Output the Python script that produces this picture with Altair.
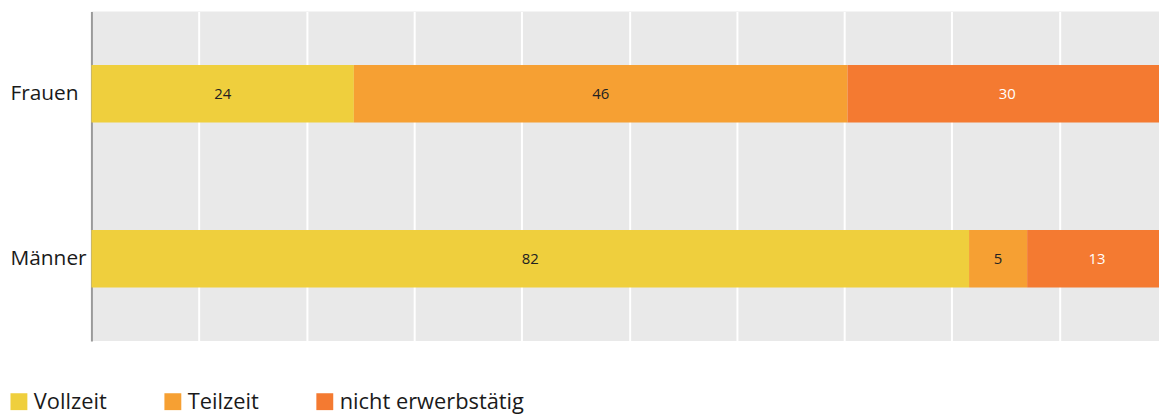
import altair as alt
import pandas as pd

groups = ["Frauen", "Männer"]
categories = ["Vollzeit", "Teilzeit", "nicht erwerbstätig"]
frauen_values = [24.4, 45.9, 29.7]
maenner_values = [81.6, 5.4, 13.0]
frauen_labels = ["24", "46", "30"]
maenner_labels = ["82", "5", "13"]
colors = ["#efcf3d", "#f6a033", "#f47a31"]

rows = []
for g, vals, labs in [("Frauen", frauen_values, frauen_labels), ("Männer", maenner_values, maenner_labels)]:
    for i, (c, v, l) in enumerate(zip(categories, vals, labs)):
        rows.append({"group": g, "category": c, "value": v, "label": l, "order": i})
df = pd.DataFrame(rows)

FONT = "Open Sans"

base = alt.Chart(df).transform_stack(
    stack="value", groupby=["group"], as_=["x0", "x1"], sort=[alt.SortField("order", order="ascending")]
).transform_calculate(mid="(datum.x0 + datum.x1) / 2")

yenc = alt.Y("group:N", sort=groups, scale=alt.Scale(paddingInner=0, paddingOuter=0),
             axis=alt.Axis(title=None, ticks=False, tickSize=0, domainColor="#9a9a9a", domainWidth=2,
                           labelFontSize=21, labelColor="#1a1a1a", labelFont=FONT,
                           labelAlign="left", labelPadding=82, labelLimit=0))
xscale = alt.Scale(domain=[0, 99.26], nice=False, zero=True)

bars = base.mark_bar(size=58).encode(
    x=alt.X("x0:Q", scale=xscale,
            axis=alt.Axis(title=None, labels=False, ticks=False, domain=False, grid=True,
                          gridColor="white", gridWidth=2, values=list(range(10, 100, 10)))),
    x2="x1:Q",
    y=yenc,
    color=alt.Color("category:N", sort=categories,
                    scale=alt.Scale(domain=categories, range=colors),
                    legend=alt.Legend(title=None, orient="none", legendX=-84, legendY=382,
                                      direction="horizontal", symbolType="square", symbolSize=289,
                                      symbolStrokeWidth=0, labelFontSize=22, labelFont=FONT,
                                      labelColor="#1a1a1a", labelOffset=4, columnPadding=55,
                                      labelLimit=0)),
)

texts = base.mark_text(fontSize=15, font=FONT).encode(
    x=alt.X("mid:Q", scale=xscale),
    y=alt.Y("group:N", sort=groups),
    text="label:N",
    color=alt.condition(alt.datum.category == "nicht erwerbstätig", alt.value("white"), alt.value("#222222")),
)

chart = alt.layer(bars, texts).properties(
    width=1075, height=332,
    autosize=alt.AutoSizeParams(type="none"),
    padding={"left": 84, "top": 2, "right": 0, "bottom": 74},
).configure_view(fill="#e9e9e9", strokeWidth=0)

chart.save("out.html", embed_options={"renderer": "svg", "actions": False})
